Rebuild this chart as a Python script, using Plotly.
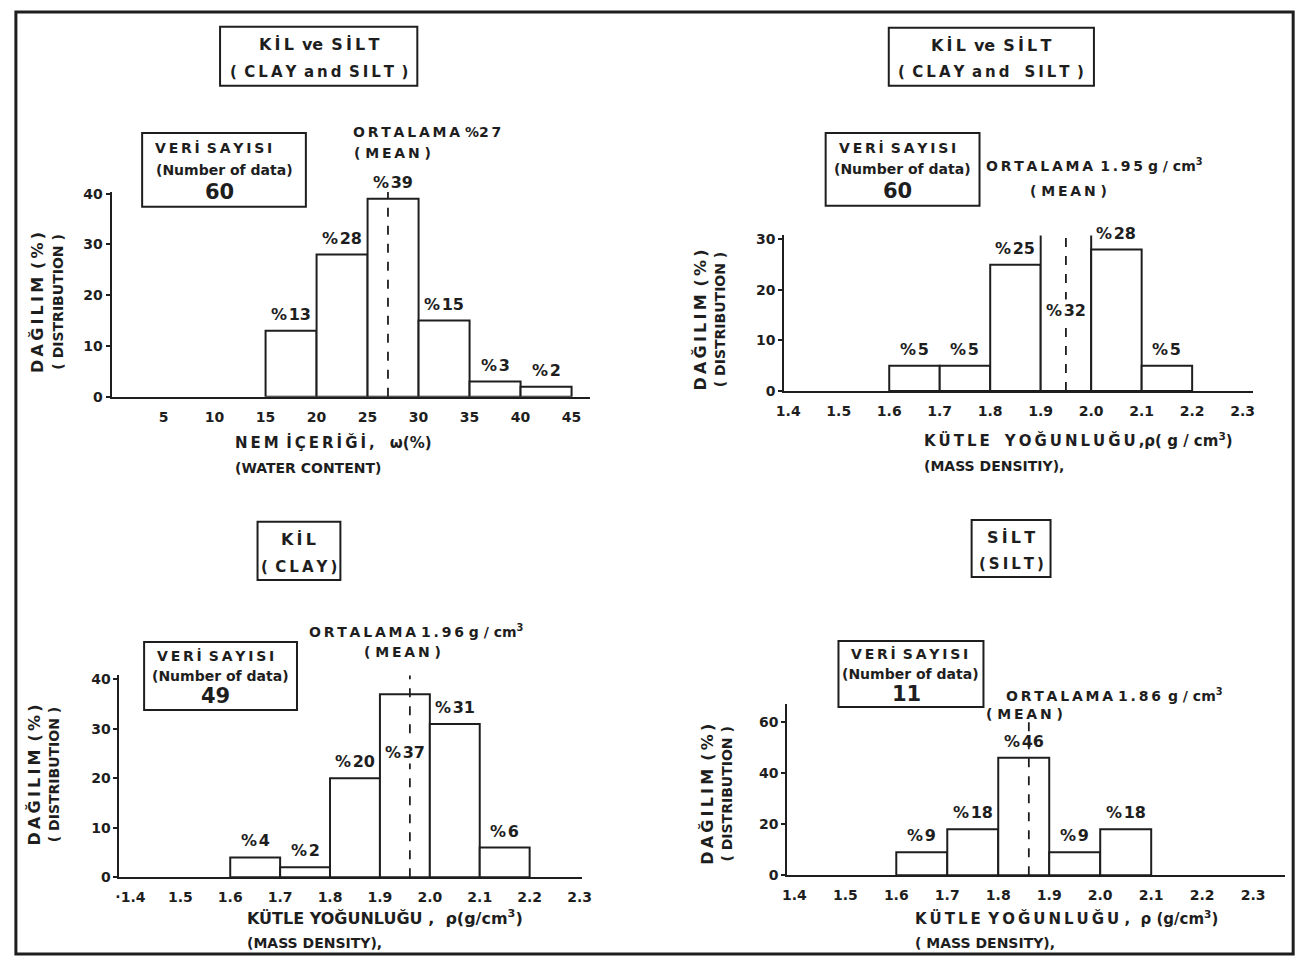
import plotly.graph_objects as go

W, H = 1315, 964
INK = "#1e1e1e"
FONT = "DejaVu Sans"
TS = "\u2009"   # thin space (letter spacing of the hand lettering)
WS = "\u2002"   # en space (word spacing)

# ---------------- data ----------------
wc_bins = [15, 20, 25, 30, 35, 40]          # left edges, water content (%)
wc_dist = [13, 28, 39, 15, 3, 2]            # distribution (%)
wc_mean = 27
wc_n = 60
wc_ticks = [5, 10, 15, 20, 25, 30, 35, 40, 45]
wc_ticklabels = ["5", "10", "15", "20", "25", "30", "35", "40", "45"]

cs_bins = [1.6, 1.7, 1.8, 1.9, 2.0, 2.1]    # clay and silt, mass density
cs_dist = [5, 5, 25, 32, 28, 5]
cs_mean = 1.95
cs_n = 60

clay_bins = [1.6, 1.7, 1.8, 1.9, 2.0, 2.1]
clay_dist = [4, 2, 20, 37, 31, 6]
clay_mean = 1.96
clay_n = 49

silt_bins = [1.6, 1.7, 1.8, 1.9, 2.0]
silt_dist = [9, 18, 46, 9, 18]
silt_mean = 1.86
silt_n = 11

rho_ticks = [1.4, 1.5, 1.6, 1.7, 1.8, 1.9, 2.0, 2.1, 2.2, 2.3]
rho_ticklabels = ["1.4", "1.5", "1.6", "1.7", "1.8", "1.9", "2.0", "2.1", "2.2", "2.3"]


def sp(s):
    """letter-space each word, widen gaps between words"""
    return WS.join(TS.join(w) for w in s.split(" "))


def fx(p):
    return p / W


def fy(p):
    return 1 - p / H


SUP3 = "<sup>3</sup>"

panels = [
    dict(bins=wc_bins, dist=wc_dist, bw=5, mean=wc_mean, n=wc_n,
         xdom=(105, 590), ydom=(396, 188), xr=(-0.1, 46.8), yr=(0, 40.3),
         xt=wc_ticks, xtl=wc_ticklabels, yt=[0, 10, 20, 30, 40],
         mean_top=42.5, inside=None,
         title=(sp("KİL") + WS + "ve" + WS + sp("SİLT"), "( CLAY and SILT )"),
         tsize=15,
         tbox=(215, 20, 415, 80),
         nbox=(136, 128, 302, 203),
         mean_txt=sp("ORTALAMA") + " %" + sp("27"), mean_xy=(425, 127),
         mean_sub_xy=(390, 148),
         ytitle_x=(30, 51), ytitle_y=300,
         xt1=sp("NEM İÇERİĞİ,") + WS + WS + "ω(%)", xt1_size=15,
         xt2="(WATER CONTENT)", xt_xy=(228, 442)),
    dict(bins=cs_bins, dist=cs_dist, bw=0.1, mean=cs_mean, n=cs_n,
         xdom=(787, 1262), ydom=(390, 232), xr=(1.392, 2.32), yr=(0, 30.8),
         xt=rho_ticks, xtl=rho_ticklabels, yt=[0, 10, 20, 30],
         mean_top=37.5, inside=(3, 0.5),
         title=(sp("KİL") + WS + "ve" + WS + sp("SİLT"), "( CLAY and  SILT )"),
         tsize=15,
         tbox=(893, 21, 1101, 80),
         nbox=(829, 128, 985, 202),
         mean_txt=sp("ORTALAMA") + WS + sp("1.95") + " g / cm" + SUP3,
         mean_xy=(1102, 160), mean_sub_xy=(1075, 187),
         ytitle_x=(702, 722), ytitle_y=318,
         xt1=sp("KÜTLE") + WS + WS + sp("YOĞUNLUĞU,") + "ρ( g / cm" + SUP3 + ")", xt1_size=15,
         xt2="(MASS DENSITIY),",
         xt_xy=(927, 440)),
    dict(bins=clay_bins, dist=clay_dist, bw=0.1, mean=clay_mean, n=clay_n,
         xdom=(113, 582), ydom=(884, 679), xr=(1.378, 2.305), yr=(0, 40.8),
         xt=rho_ticks, xtl=["·1.4"] + rho_ticklabels[1:], yt=[0, 10, 20, 30, 40],
         mean_top=44, inside=(3, 0.68),
         title=(sp("KİL"), "( CLAY)"), tsize=15,
         tbox=(253, 523, 337, 582),
         nbox=(138, 645, 293, 714),
         mean_txt=sp("ORTALAMA") + " " + sp("1.96") + " g / cm" + SUP3,
         mean_xy=(414, 634), mean_sub_xy=(400, 655),
         ytitle_x=(27, 47), ytitle_y=780,
         xt1="KÜTLE YOĞUNLUĞU ,  ρ(g/cm" + SUP3 + ")", xt1_size=16,
         xt2="(MASS DENSITY),",
         xt_xy=(240, 925)),
    dict(bins=silt_bins, dist=silt_dist, bw=0.1, mean=silt_mean, n=silt_n,
         xdom=(790, 1295), ydom=(882, 708), xr=(1.386, 2.363), yr=(0, 67),
         xt=rho_ticks, xtl=rho_ticklabels, yt=[0, 20, 40, 60],
         mean_top=62, inside=None,
         title=(sp("SİLT"), "(SILT)"), tsize=15,
         tbox=(977, 521, 1057, 579),
         nbox=(842, 644, 989, 711),
         mean_txt=sp("ORTALAMA") + " " + sp("1.86") + WS + "g / cm" + SUP3,
         mean_xy=(1122, 699), mean_sub_xy=(1031, 718),
         ytitle_x=(709, 729), ytitle_y=800,
         xt1=sp("KÜTLE") + WS + sp("YOĞUNLUĞU") + " ,  ρ (g/cm" + SUP3 + ")", xt1_size=15,
         xt2="( MASS DENSITY),",
         xt_xy=(918, 925)),
]

fig = go.Figure()
shapes = []
annotations = []
layout_axes = {}


def txt(x, y, text, size=14, xanchor="center", **kw):
    annotations.append(dict(
        x=fx(x), y=fy(y), xref="paper", yref="paper", text=text,
        showarrow=False, xanchor=xanchor, yanchor="middle",
        font=dict(family=FONT, size=size, color=INK, weight="bold"), **kw))


LBL = dict(family=FONT, size=16, color=INK, weight="bold")

for i, p in enumerate(panels):
    k = "" if i == 0 else str(i + 1)
    xa, ya = "x" + k, "y" + k
    centers = [b + p["bw"] / 2 for b in p["bins"]]
    fig.add_trace(go.Bar(
        x=centers, y=p["dist"], width=p["bw"], xaxis=xa, yaxis=ya,
        marker=dict(color="white", line=dict(color=INK, width=2)),
        showlegend=False, hoverinfo="x+y"))

    layout_axes["xaxis" + k] = dict(
        domain=[fx(p["xdom"][0]), fx(p["xdom"][1])], range=list(p["xr"]),
        anchor=ya, showline=True, linecolor=INK, linewidth=2, mirror=False,
        showgrid=False, zeroline=False, tickvals=p["xt"], ticktext=p["xtl"],
        ticks="", ticklabelstandoff=6,
        tickfont=dict(family=FONT, size=14, color=INK, weight="bold"))
    layout_axes["yaxis" + k] = dict(
        domain=[fy(p["ydom"][0]), fy(p["ydom"][1])], range=list(p["yr"]),
        anchor=xa, showline=True, linecolor=INK, linewidth=2,
        showgrid=False, zeroline=False, tickvals=p["yt"],
        ticks="outside", ticklen=4, tickcolor=INK, tickwidth=1.5,
        tickfont=dict(family=FONT, size=14, color=INK, weight="bold"))

    # mean line
    shapes.append(dict(type="line", xref=xa, yref=ya, x0=p["mean"], x1=p["mean"],
                       y0=0, y1=p["mean_top"],
                       line=dict(color=INK, width=1.8, dash="dash"), layer="above"))

    # bar labels
    for j, (c, v) in enumerate(zip(centers, p["dist"])):
        lab = "%" + "\u200a" + str(v)
        inside = p["inside"] is not None and p["inside"][0] == j
        if inside:
            annotations.append(dict(
                x=c, y=v * p["inside"][1], xref=xa, yref=ya, text=lab,
                showarrow=False, bgcolor="white", borderpad=1, font=LBL))
        else:
            annotations.append(dict(
                x=c, y=v, xref=xa, yref=ya, text=lab, showarrow=False,
                yanchor="bottom", yshift=5, font=LBL))

    # title box
    x0, y0, x1, y1 = p["tbox"]
    shapes.append(dict(type="rect", xref="paper", yref="paper",
                       x0=fx(x0), x1=fx(x1), y0=fy(y0), y1=fy(y1),
                       line=dict(color=INK, width=2)))
    hh = y1 - y0
    txt((x0 + x1) / 2, y0 + 0.3 * hh, p["title"][0], size=16)
    txt((x0 + x1) / 2, y0 + 0.77 * hh, sp(p["title"][1]), size=p["tsize"])

    # number-of-data box
    x0, y0, x1, y1 = p["nbox"]
    shapes.append(dict(type="rect", xref="paper", yref="paper",
                       x0=fx(x0), x1=fx(x1), y0=fy(y0), y1=fy(y1),
                       line=dict(color=INK, width=2)))
    hh = y1 - y0
    txt(x0 + 11, y0 + 0.2 * hh, sp("VERİ SAYISI"), size=14, xanchor="left")
    txt((x0 + x1) / 2, y0 + 0.5 * hh, "(Number of data)", size=14)
    txt((x0 + x1) / 2 - 5, y0 + 0.8 * hh, str(p["n"]), size=21)

    # mean text
    txt(p["mean_xy"][0], p["mean_xy"][1], p["mean_txt"], size=14)
    txt(p["mean_sub_xy"][0], p["mean_sub_xy"][1], "( " + sp("MEAN") + " )", size=14)

    # y title (two rotated lines)
    txt(p["ytitle_x"][0], p["ytitle_y"], sp("DAĞILIM (%)"), size=16, textangle=-90)
    txt(p["ytitle_x"][1], p["ytitle_y"], "( DISTRIBUTION )", size=14,
        textangle=-90)

    # x title
    txt(p["xt_xy"][0], p["xt_xy"][1], p["xt1"], size=p["xt1_size"], xanchor="left")
    txt(p["xt_xy"][0], p["xt_xy"][1] + 26, p["xt2"], size=14, xanchor="left")

# outer frame
shapes.append(dict(type="rect", xref="paper", yref="paper",
                   x0=fx(8), x1=fx(1303), y0=fy(962), y1=fy(5),
                   line=dict(color=INK, width=3)))

fig.update_layout(
    width=W, height=H, margin=dict(l=0, r=0, t=0, b=0),
    paper_bgcolor="white", plot_bgcolor="rgba(0,0,0,0)",
    shapes=shapes, annotations=annotations, showlegend=False,
    **layout_axes)

fig.write_html("out.html", config={"displayModeBar": False},
               post_script="document.body.style.margin='0';")
